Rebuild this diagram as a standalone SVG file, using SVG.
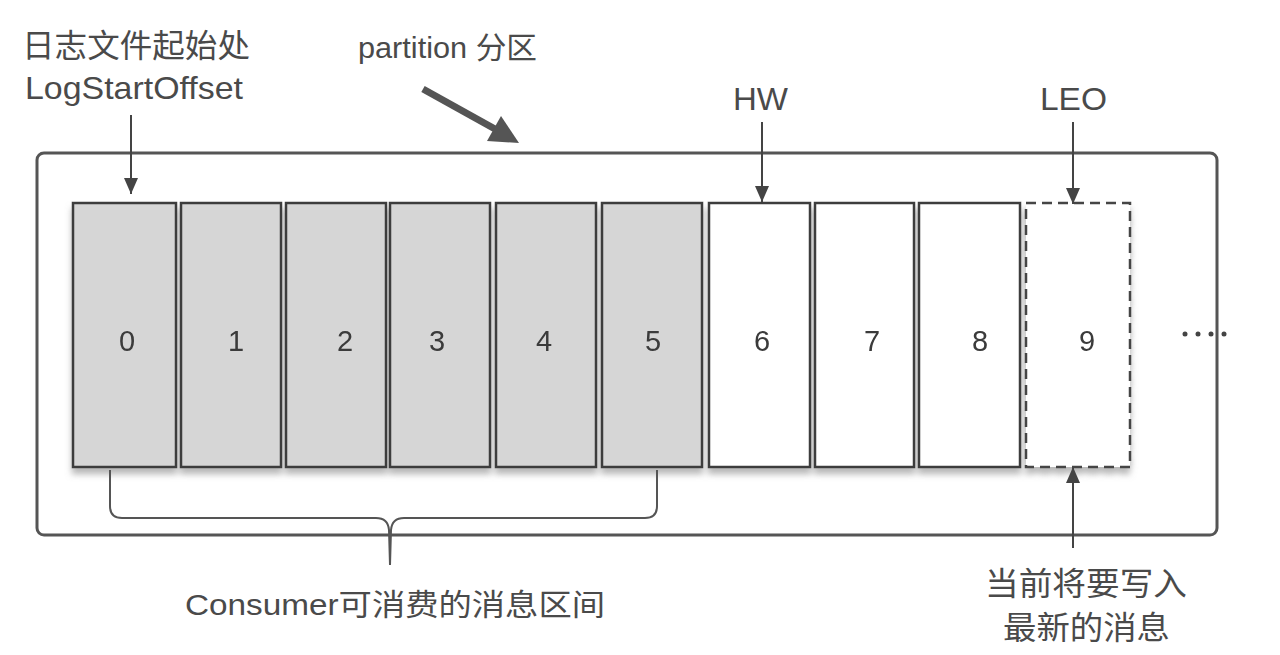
<svg xmlns="http://www.w3.org/2000/svg" width="1280" height="655" viewBox="0 0 1280 655">
<defs>
<style>
.t{font-family:"Liberation Sans","Noto Sans CJK SC",sans-serif;fill:#4a4a4a;}
.num{font-family:"Liberation Sans",sans-serif;fill:#3a3a3a;font-size:29px;text-anchor:middle;}
.cell{stroke:#3c3c3c;stroke-width:2.5;}
.g{fill:#d6d6d6;}
.w{fill:#ffffff;}
.arr{stroke:#444;stroke-width:2;fill:none;marker-end:url(#ah);}
</style>
<marker id="ah" viewBox="0 0 16 14" refX="16" refY="7" markerWidth="16" markerHeight="14" markerUnits="userSpaceOnUse" orient="auto">
<path d="M0,0 L16,7 L0,14 Z" fill="#444"/>
</marker>
<filter id="sh" x="-10%" y="-10%" width="120%" height="130%">
<feDropShadow dx="0" dy="6" stdDeviation="3" flood-color="#888" flood-opacity="0.6"/>
</filter>
</defs>
<rect width="1280" height="655" fill="#ffffff"/>

<g id="partition">
<rect x="37" y="153" width="1180" height="382" rx="7" fill="none" stroke="#555" stroke-width="3"/>
</g>

<g id="cells" filter="url(#sh)">
<g id="cell0"><rect class="cell g" x="73" y="203" width="103" height="264"/><text class="num" x="127" y="351">0</text></g>
<g id="cell1"><rect class="cell g" x="181" y="203" width="100" height="264"/><text class="num" x="236" y="351">1</text></g>
<g id="cell2"><rect class="cell g" x="286" y="203" width="100" height="264"/><text class="num" x="345" y="351">2</text></g>
<g id="cell3"><rect class="cell g" x="390" y="203" width="100" height="264"/><text class="num" x="437" y="351">3</text></g>
<g id="cell4"><rect class="cell g" x="496" y="203" width="100" height="264"/><text class="num" x="544" y="351">4</text></g>
<g id="cell5"><rect class="cell g" x="602" y="203" width="100" height="264"/><text class="num" x="653" y="351">5</text></g>
<g id="cell6"><rect class="cell w" x="709" y="203" width="101" height="264"/><text class="num" x="762" y="351">6</text></g>
<g id="cell7"><rect class="cell w" x="815" y="203" width="99" height="264"/><text class="num" x="872" y="351">7</text></g>
<g id="cell8"><rect class="cell w" x="919" y="203" width="101" height="264"/><text class="num" x="980" y="351">8</text></g>
<g id="cell9"><rect x="1026" y="203" width="104" height="264" fill="#fff" stroke="#444" stroke-width="2.5" stroke-dasharray="10,6"/><text class="num" x="1087" y="351">9</text></g>
</g>

<g id="dots" fill="#444">
<circle cx="1185" cy="334" r="2.5"/><circle cx="1198" cy="334" r="2.5"/><circle cx="1211" cy="334" r="2.5"/><circle cx="1224" cy="334" r="2.5"/>
</g>

<g id="connectors">
<line class="arr" x1="131" y1="115" x2="131" y2="194"/>
<line class="arr" x1="762" y1="122" x2="762" y2="202"/>
<line class="arr" x1="1073" y1="122" x2="1073" y2="204"/>
<line class="arr" x1="1073" y1="548" x2="1073" y2="467"/>
<line x1="423" y1="89" x2="495" y2="129" stroke="#555" stroke-width="7" stroke-linecap="butt"/>
<polygon points="519,143 487,141 501,116" fill="#555"/>
<path d="M110,470 L110,506 Q110,518 122,518 L376,518 Q388,518 389,530 L390,565 L391,530 Q392,518 404,518 L645,518 Q657,518 657,506 L657,470" fill="none" stroke="#555" stroke-width="2"/>
</g>

<g id="labels">
<text class="t" x="22" y="57" font-size="32" textLength="228" lengthAdjust="spacingAndGlyphs">日志文件起始处</text>
<text class="t" x="25" y="99" font-size="32" textLength="218" lengthAdjust="spacingAndGlyphs">LogStartOffset</text>
<text class="t" x="358" y="58" font-size="30" textLength="179" lengthAdjust="spacingAndGlyphs">partition 分区</text>
<text class="t" x="733" y="110" font-size="31" textLength="55" lengthAdjust="spacingAndGlyphs">HW</text>
<text class="t" x="1040" y="110" font-size="31" textLength="67" lengthAdjust="spacingAndGlyphs">LEO</text>
<text class="t" x="185" y="615" font-size="30" textLength="420" lengthAdjust="spacingAndGlyphs">Consumer可消费的消息区间</text>
<text class="t" x="985" y="595" font-size="32" textLength="202" lengthAdjust="spacingAndGlyphs">当前将要写入</text>
<text class="t" x="1003" y="639" font-size="32" textLength="167" lengthAdjust="spacingAndGlyphs">最新的消息</text>
</g>
</svg>
